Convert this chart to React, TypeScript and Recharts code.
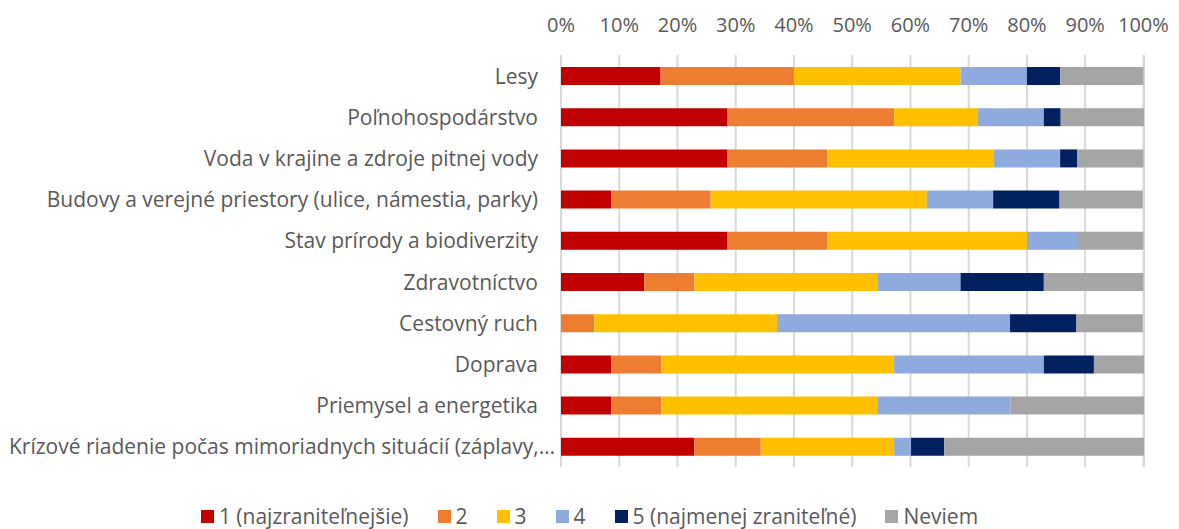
import { BarChart, Bar, XAxis, YAxis, CartesianGrid, Legend } from 'recharts';

const categories = [
    'Lesy',
    'Poľnohospodárstvo',
    'Voda v krajine a zdroje pitnej vody',
    'Budovy a verejné priestory (ulice, námestia, parky)',
    'Stav prírody a biodiverzity',
    'Zdravotníctvo',
    'Cestovný ruch',
    'Doprava',
    'Priemysel a energetika',
    'Krízové riadenie počas mimoriadnych situácií (záplavy,…',
];

// shares in % per category, same order as categories
const level1 = [17.1, 28.6, 28.6, 8.6, 28.6, 14.3, 0, 8.6, 8.6, 22.9];
const level2 = [22.9, 28.6, 17.1, 17.1, 17.1, 8.6, 5.7, 8.6, 8.6, 11.4];
const level3 = [28.6, 14.3, 28.6, 37.1, 34.3, 31.4, 31.4, 40.0, 37.1, 22.9];
const level4 = [11.4, 11.4, 11.4, 11.4, 8.6, 14.3, 40.0, 25.7, 22.9, 2.9];
const level5 = [5.7, 2.9, 2.9, 11.4, 0, 14.3, 11.4, 8.6, 0, 5.7];
const dontKnow = [14.3, 14.3, 11.4, 14.3, 11.4, 17.1, 11.4, 8.6, 22.9, 34.3];

const xTicks = [0, 10, 20, 30, 40, 50, 60, 70, 80, 90, 100];

const series = [
    { key: 'l1', name: '1 (najzraniteľnejšie)', color: '#C00000', values: level1 },
    { key: 'l2', name: '2', color: '#ED7D31', values: level2 },
    { key: 'l3', name: '3', color: '#FFC000', values: level3 },
    { key: 'l4', name: '4', color: '#8FAADC', values: level4 },
    { key: 'l5', name: '5 (najmenej zraniteľné)', color: '#002060', values: level5 },
    { key: 'nv', name: 'Neviem', color: '#A5A5A5', values: dontKnow },
];

const data = categories.map((name, i) => {
    const row: Record<string, string | number> = { name };
    series.forEach((s) => {
        row[s.key] = s.values[i];
    });
    return row;
});

const FONT = '"Open Sans", sans-serif';
const TEXT = '#595959';

function CategoryTick({ x, y, payload }: any) {
    // truncated label runs a bit past the usual right edge, like in the source
    const cut = String(payload.value).endsWith('…');
    return (
        <text x={cut ? x + 2 : x - 15} y={y} textAnchor="end" dominantBaseline="central" fill={TEXT} fontSize={21} fontFamily={FONT}>
            {payload.value}
        </text>
    );
}

function LegendContent() {
    return (
        <div style={{ display: 'flex', justifyContent: 'center', alignItems: 'center', height: 24, lineHeight: '24px', fontFamily: FONT, fontSize: 21, color: TEXT }}>
            {series.map((s, i) => (
                <div key={s.key} style={{ display: 'flex', alignItems: 'center', marginRight: i === series.length - 1 ? 0 : 29 }}>
                    <span style={{ display: 'inline-block', width: 13, height: 13, background: s.color, marginRight: 5 }} />
                    <span>{s.name}</span>
                </div>
            ))}
        </div>
    );
}

export default function App() {
    return (
        <div style={{ position: 'absolute', left: 0, top: 0, width: 1179, height: 529, background: '#fff' }}>
            <BarChart
                width={1179}
                height={529}
                data={data}
                layout="vertical"
                margin={{ top: 0, right: 35, left: 0, bottom: 38 }}
                barSize={18}
            >
                <CartesianGrid horizontal={false} stroke="#D9D9D9" strokeWidth={2} />
                <XAxis
                    type="number"
                    orientation="top"
                    domain={[0, 100]}
                    ticks={xTicks}
                    tickFormatter={(v) => `${v}%`}
                    axisLine={false}
                    tickLine={false}
                    tickSize={0}
                    tickMargin={23}
                    height={55}
                    interval={0}
                    tick={{ fill: TEXT, fontSize: 20, fontFamily: FONT }}
                />
                <YAxis
                    type="category"
                    dataKey="name"
                    width={561}
                    axisLine={false}
                    tickLine={false}
                    interval={0}
                    tick={<CategoryTick />}
                />
                <Legend verticalAlign="bottom" content={<LegendContent />} wrapperStyle={{ bottom: 1, left: 0, width: 1179 }} />
                {series.map((s) => (
                    <Bar key={s.key} dataKey={s.key} name={s.name} stackId="a" fill={s.color} isAnimationActive={false} />
                ))}
            </BarChart>
        </div>
    );
}
